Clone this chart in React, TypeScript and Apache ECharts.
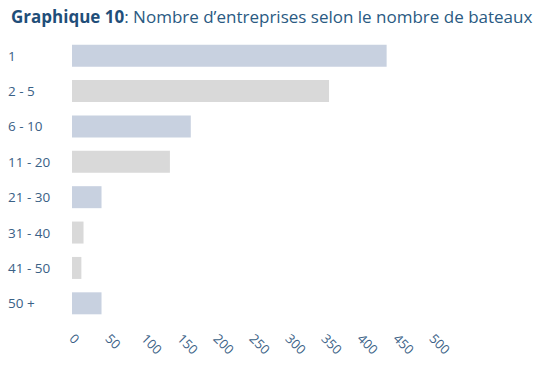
import React, { useEffect, useRef } from "react";
import * as echarts from "echarts";

const categories = ["1", "2 - 5", "6 - 10", "11 - 20", "21 - 30", "31 - 40", "41 - 50", "50 +"];
const values = [437, 357, 165, 136, 41, 16, 13, 41];
const barColors = ["#c8d1e0", "#d9d9d9", "#c8d1e0", "#d9d9d9", "#c8d1e0", "#d9d9d9", "#d9d9d9", "#c8d1e0"];
const titleBold = "Graphique 10";
const titleRest = ": Nombre d’entreprises selon le nombre de bateaux";

export default function App() {
  const ref = useRef<HTMLDivElement>(null);
  useEffect(() => {
    document.body.style.margin = "0";
    const chart = echarts.init(ref.current!, null, { renderer: "svg" });
    chart.setOption({
      animation: false,
      backgroundColor: "#ffffff",
      title: {
        text: `{b|${titleBold}}{n|${titleRest}}`,
        left: 6,
        top: 3,
        textStyle: {
          rich: {
            b: { fontFamily: "Open Sans", fontWeight: "bold", fontSize: 17, color: "#1f4e79" },
            n: { fontFamily: "Open Sans", fontWeight: "normal", fontSize: 17, color: "#2a5a82" },
          },
        },
      },
      grid: { left: 72, right: 108, top: 38, bottom: 57 },
      xAxis: {
        type: "value",
        min: 0,
        max: 500,
        interval: 50,
        axisLine: { show: false },
        axisTick: { show: false },
        splitLine: { show: false },
        axisLabel: {
          rotate: -45,
          margin: 15,
          color: "#3a6186",
          fontFamily: "Open Sans",
          fontSize: 13,
        },
      },
      yAxis: {
        type: "category",
        inverse: true,
        data: categories,
        axisLine: { show: false },
        axisTick: { show: false },
        axisLabel: {
          align: "left",
          margin: 64,
          padding: [0, 0, 7, 0],
          color: "#3a6186",
          fontFamily: "Open Sans",
          fontSize: 13.5,
        },
      },
      series: [
        {
          type: "bar",
          barWidth: 22,
          data: values.map((v, i) => ({ value: v, itemStyle: { color: barColors[i] } })),
        },
      ],
    });
    return () => chart.dispose();
  }, []);
  return <div ref={ref} style={{ width: 540, height: 378 }} />;
}
